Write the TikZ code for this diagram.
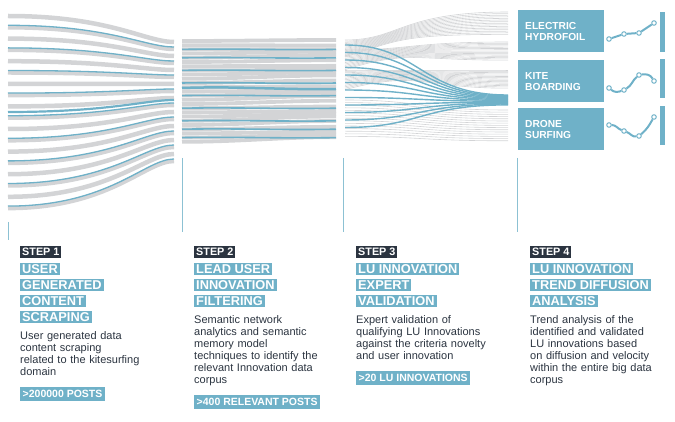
\documentclass[tikz,border=0pt]{standalone}
\usepackage{fontspec}
\setmainfont{Liberation Sans}
\usepackage{tikz}
\usetikzlibrary{positioning}
\definecolor{lublue}{HTML}{6FB1C8}
\definecolor{ludark}{HTML}{2B3440}
\definecolor{lugray}{HTML}{D3D4D6}
\tikzset{
  steplabel/.style={fill=ludark,text=white,font=\bfseries\fontsize{10.8}{12}\selectfont,inner xsep=2pt,inner ysep=1.8pt,anchor=west},
  titlebox/.style={fill=lublue,text=white,font=\bfseries\fontsize{12.8}{14}\selectfont,inner xsep=2pt,inner ysep=1.8pt,anchor=west},
  desctext/.style={font=\fontsize{11}{12}\selectfont,text=ludark,align=left,anchor=north west,inner sep=0pt,text width=170pt},
  tagbox/.style={fill=lublue,text=white,font=\bfseries\fontsize{10.5}{12}\selectfont,inner xsep=2.5pt,inner ysep=3pt,anchor=west},
  trendbox/.style={fill=lublue,text=white,font=\bfseries\fontsize{10.2}{11}\selectfont,align=left,anchor=north west,minimum width=84pt,minimum height=42pt,inner xsep=7pt,text width=72pt},
  spark/.style={lublue,line width=2pt},
  dot/.style={circle,draw=lublue,fill=white,line width=1pt,inner sep=1.6pt},
  divider/.style={lublue!80,line width=1pt}
}
\begin{document}
\begin{tikzpicture}[x=1pt,y=-1pt]
\useasboundingbox (0,0) rectangle (675,422);

% panel 1 flows
\foreach \i in {0,...,17}{
  \pgfmathsetmacro{\yl}{16+\i*11.3}
  \pgfmathsetmacro{\yr}{42+\i*7}
  \draw[lugray,line width=4.5pt] (8,\yl) .. controls (110,\yl) and (145,\yr) .. (174,\yr);
  \ifodd\i
    \draw[lublue,line width=1.3pt] (8,\yl-2) .. controls (110,\yl-2) and (145,\yr-2) .. (174,\yr-2);
  \fi
}
\draw[lublue,line width=2.2pt] (8,112) .. controls (110,112) and (145,100) .. (174,100);

% panel 2 flows
\foreach \i in {0,...,24}{
  \pgfmathsetmacro{\ya}{41+\i*4.2}
  \pgfmathsetmacro{\yb}{40+\i*4.1+sin(\i*70)*1.5}
  \draw[lugray,line width=3.8pt] (182,\ya) .. controls (240,\ya) and (280,\yb) .. (336,\yb);
}
\foreach \i in {2,4,7,10,13,16,19,21,23}{
  \pgfmathsetmacro{\ya}{41+\i*4.2}
  \draw[lublue,line width=1.6pt] (182,\ya) .. controls (240,\ya-1) and (280,\ya+1) .. (336,\ya);
}
\draw[lublue,line width=2.5pt] (182,88) .. controls (240,86) and (280,90) .. (336,89);

% panel 3 flows
\foreach \i in {0,...,14}{
  \draw[lugray,line width=0.6pt] (345,40+\i*1.2) .. controls (400,40) and (400,12+\i*1.6) .. (508,12+\i*1.6);
  \draw[lugray,line width=0.6pt] (345,50+\i*1.4) .. controls (410,50) and (410,42+\i*1.3) .. (508,42+\i*1.3);
  \draw[lugray,line width=0.6pt] (345,70+\i*1.4) .. controls (420,70) and (420,70+\i*1.3) .. (508,70+\i*1.3);
  \draw[lugray,line width=0.6pt] (345,100+\i*2.6) .. controls (420,100+\i*2.6) and (420,110+\i*2.2) .. (508,110+\i*2.2);
}
\foreach \i in {0,...,11}{
  \draw[lublue,line width=1.4pt] (345,45+\i*7.5) .. controls (420,45+\i*7.5) and (420,95+\i*0.9) .. (508,95+\i*0.9);
}

% dividers
\draw[divider] (8,222) -- (8,240);
\foreach \x in {182,343,517}
  \draw[divider] (\x,158) -- (\x,232);

% step 1
\node[steplabel] (s1) at (20,252) {STEP 1};
\node[titlebox] (t1a) at (20,269) {USER};
\node[titlebox] (t1b) at (20,285) {GENERATED};
\node[titlebox] (t1c) at (20,301) {CONTENT};
\node[titlebox] (t1d) at (20,317) {SCRAPING};
\node[desctext] (d1) at (20,331) {User generated data\\content scraping\\related to the kitesurfing\\domain};
\node[tagbox] (g1) at (20,394) {>200000 POSTS};

% step 2
\node[steplabel] (s2) at (194,252) {STEP 2};
\node[titlebox] (t2a) at (194,269) {LEAD USER};
\node[titlebox] (t2b) at (194,285) {INNOVATION};
\node[titlebox] (t2c) at (194,301) {FILTERING};
\node[desctext] (d2) at (194,315) {Semantic network\\analytics and semantic\\memory model\\techniques to identify the\\relevant Innovation data\\corpus};
\node[tagbox] (g2) at (194,402) {>400 RELEVANT POSTS};

% step 3
\node[steplabel] (s3) at (356,252) {STEP 3};
\node[titlebox] (t3a) at (356,269) {LU INNOVATION};
\node[titlebox] (t3b) at (356,285) {EXPERT};
\node[titlebox] (t3c) at (356,301) {VALIDATION};
\node[desctext] (d3) at (356,315) {Expert validation of\\qualifying LU Innovations\\against the criteria novelty\\and user innovation};
\node[tagbox] (g3) at (356,378) {>20 LU INNOVATIONS};

% step 4
\node[steplabel] (s4) at (530,252) {STEP 4};
\node[titlebox] (t4a) at (530,269) {LU INNOVATION};
\node[titlebox] (t4b) at (530,285) {TREND DIFFUSION};
\node[titlebox] (t4c) at (530,301) {ANALYSIS};
\node[desctext] (d4) at (530,315) {Trend analysis of the\\identified and validated\\LU innovations based\\on diffusion and velocity\\within the entire big data\\corpus};

% trends
\node[trendbox] (e1) at (518,10) {ELECTRIC\\HYDROFOIL};
\node[trendbox] (e2) at (518,60) {KITE\\BOARDING};
\node[trendbox] (e3) at (518,108) {DRONE\\SURFING};
\fill[lublue] (660,12) rectangle (665,52);
\fill[lublue] (660,59) rectangle (665,98);
\fill[lublue] (660,106) rectangle (665,145);

\node[dot] (a1) at (609,39) {};
\node[dot] (a2) at (624,34) {};
\node[dot] (a3) at (639,33) {};
\node[dot] (a4) at (654,23) {};
\draw[spark] (a1) -- (a2) -- (a3) -- (a4);
\node[dot] (b1) at (609,88) {};
\node[dot] (b2) at (624,90) {};
\node[dot] (b3) at (639,75) {};
\node[dot] (b4) at (654,81) {};
\draw[spark] (b1) to[out=-40,in=200] (b2) to[out=30,in=220] (b3) to[out=10,in=120] (b4);
\node[dot] (c1) at (609,125) {};
\node[dot] (c2) at (624,131) {};
\node[dot] (c3) at (639,136) {};
\node[dot] (c4) at (654,117) {};
\draw[spark] (c1) to[out=0,in=160] (c2) to[out=-20,in=190] (c3) to[out=40,in=240] (c4);
\end{tikzpicture}
\end{document}
